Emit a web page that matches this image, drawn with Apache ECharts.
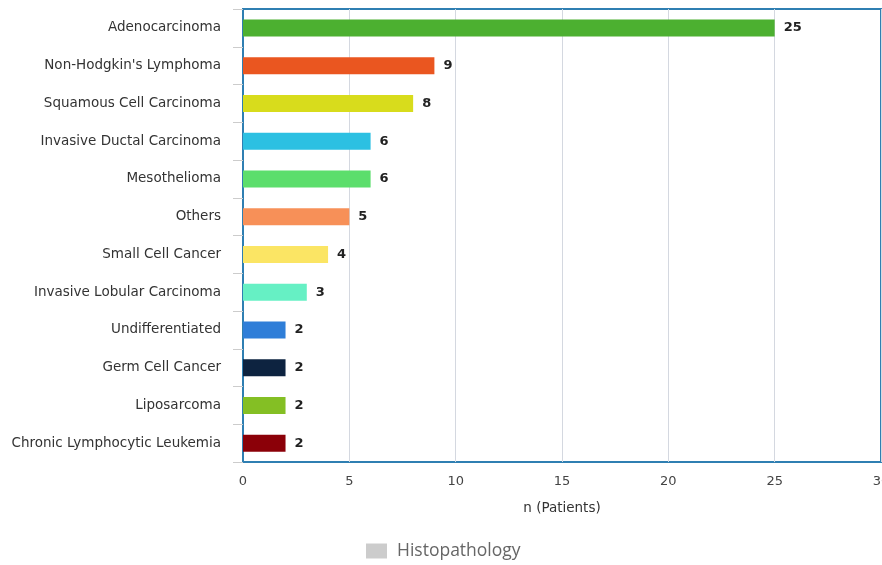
<!DOCTYPE html>
<html>
<head>
<meta charset="utf-8">
<script src="https://cdn.jsdelivr.net/npm/echarts@6/dist/echarts.min.js"></script>
<style>
  html, body { margin: 0; padding: 0; background: #fff; }
  #chart { width: 882px; height: 565px; }
</style>
</head>
<body>
<div id="chart"></div>
<script>
// Histopathology categories, top to bottom
const categories = [
  'Adenocarcinoma',
  "Non-Hodgkin's Lymphoma",
  'Squamous Cell Carcinoma',
  'Invasive Ductal Carcinoma',
  'Mesothelioma',
  'Others',
  'Small Cell Cancer',
  'Invasive Lobular Carcinoma',
  'Undifferentiated',
  'Germ Cell Cancer',
  'Liposarcoma',
  'Chronic Lymphocytic Leukemia'
];
// Number of patients per category
const patients = [25, 9, 8, 6, 6, 5, 4, 3, 2, 2, 2, 2];
// One colour per bar
const barColors = [
  '#4cb030', '#ea5620', '#d8dc1c', '#2cc0e2', '#5cde6c', '#f79058',
  '#fbe564', '#66f0c4', '#2f7ed8', '#0d2340', '#84bf24', '#8b0008'
];
const xTicks = { min: 0, max: 30, interval: 5 };

const baseFont = 'DejaVu Sans, Verdana, sans-serif';

const chart = echarts.init(document.getElementById('chart'), null, { renderer: 'canvas' });
chart.setOption({
  animation: false,
  textStyle: { fontFamily: baseFont },
  grid: {
    left: 243, top: 9, right: 1, bottom: 103,
    outerBoundsMode: 'none',
    containLabel: false,
    show: true, borderColor: '#2f7fb2', borderWidth: 2, backgroundColor: 'transparent'
  },
  legend: {
    top: 537,
    left: 361,
    icon: 'rect',
    itemWidth: 21,
    itemHeight: 15,
    itemGap: 8,
    textStyle: { fontFamily: 'Open Sans, DejaVu Sans, sans-serif', fontSize: 17.5, color: '#666', padding: [0, 0, 0, 5] },
    data: ['Histopathology']
  },
  xAxis: {
    type: 'value',
    min: xTicks.min, max: xTicks.max, interval: xTicks.interval,
    name: 'n (Patients)',
    nameLocation: 'middle',
    nameGap: 39,
    nameTextStyle: { fontSize: 13.5, color: '#333', fontFamily: baseFont },
    axisLine: { show: false },
    axisTick: { show: false },
    axisLabel: { fontSize: 13, color: '#444', margin: 13, fontFamily: baseFont },
    splitLine: { show: true, lineStyle: { color: '#d4d8e0', width: 1 } }
  },
  yAxis: {
    type: 'category',
    inverse: true,
    data: categories,
    axisLine: { show: true, lineStyle: { color: '#2f7fb2', width: 2 } },
    axisTick: { show: true, length: 10, lineStyle: { color: '#ccc' } },
    axisLabel: { fontSize: 13.5, color: '#333', margin: 22, fontFamily: baseFont }
  },
  series: [{
    name: 'Histopathology',
    type: 'bar',
    barWidth: 17,
    itemStyle: { color: '#cccccc' },
    label: {
      show: true, position: 'right', distance: 9,
      fontSize: 13, fontWeight: 'bold', color: '#222', fontFamily: baseFont
    },
    data: patients.map((v, i) => ({ value: v, itemStyle: { color: barColors[i] } }))
  }]
});
</script>
</body>
</html>
